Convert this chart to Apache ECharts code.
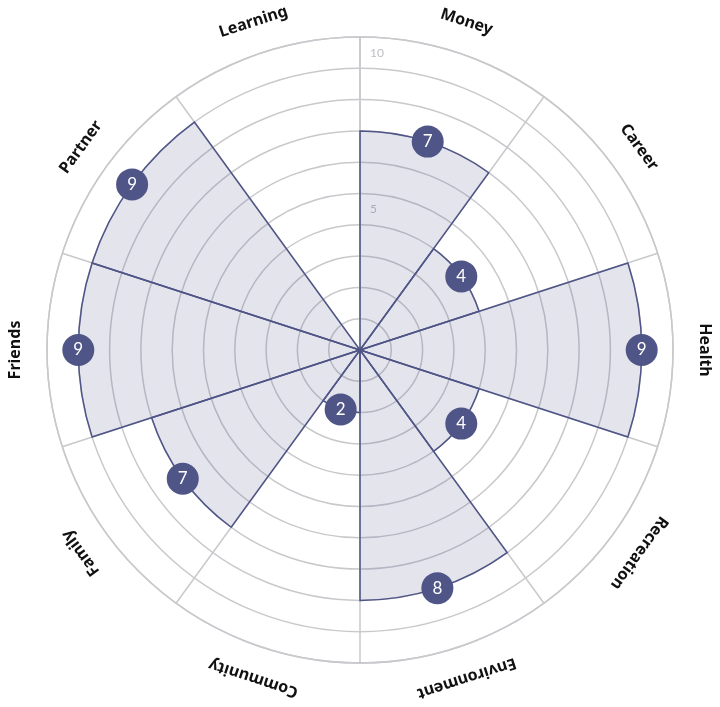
<!DOCTYPE html>
<html>
<head>
<meta charset="utf-8">
<script src="https://cdn.jsdelivr.net/npm/echarts@6/dist/echarts.min.js"></script>
<style>
  html, body { margin: 0; padding: 0; background: #fff; }
  #wheel { width: 720px; height: 707px; }
</style>
</head>
<body>
<div id="wheel"></div>
<script>
// 生命之轮：十个领域的打分（0-10）
var categories = ['Money', 'Career', 'Health', 'Recreation', 'Environment',
                  'Community', 'Family', 'Friends', 'Partner', 'Learning'];
var scores = [7, 4, 9, 4, 8, 2, 7, 9, 9, 0];
var scaleMax = 10;
var tickLabels = [5, 10];

var navy = '#4f5587';
var grey = '#c9c9cd';

var myChart = echarts.init(document.getElementById('wheel'));

// 外圈文字用一组透明的满值扇形来挂标签，这样文字能沿切线旋转
var ringData = categories.map(function () { return scaleMax; });
var barData = scores.map(function (v) { return v > 0 ? v : '-'; });
var dotData = scores.map(function (v, i) { return v > 0 ? [v, categories[i]] : null; })
    .filter(function (d) { return d !== null; });

var option = {
    animation: false,
    polar: {
        center: ['50%', 350],
        radius: 313
    },
    angleAxis: {
        type: 'category',
        data: categories,
        startAngle: 90,
        clockwise: true,
        axisLine: { show: true, lineStyle: { color: grey, width: 1.5 } },
        axisTick: { show: false },
        axisLabel: { show: false },
        splitLine: { show: true, lineStyle: { color: grey, width: 1.5 } }
    },
    radiusAxis: {
        type: 'value',
        min: 0,
        max: scaleMax,
        interval: 1,
        axisLine: { show: true, lineStyle: { color: grey, width: 1.5 } },
        axisTick: { show: false },
        splitLine: { show: true, lineStyle: { color: grey, width: 1.5 } },
        axisLabel: {
            color: '#bdbdc2',
            fontSize: 12,
            fontFamily: 'Lato',
            align: 'left',
            verticalAlign: 'top',
            margin: -10,
            padding: [10, 0, 0, 0],
            formatter: function (v) {
                return tickLabels.indexOf(v) >= 0 ? String(v) : '';
            }
        }
    },
    series: [
        {
            name: 'score',
            type: 'bar',
            coordinateSystem: 'polar',
            data: barData,
            barCategoryGap: '0%',
            barGap: '-100%',
            itemStyle: {
                color: 'rgba(79,85,135,0.16)',
                borderColor: navy,
                borderWidth: 1.5
            },
            silent: true,
            z: 2
        },
        {
            name: 'labels',
            type: 'bar',
            coordinateSystem: 'polar',
            data: ringData,
            barCategoryGap: '0%',
            barGap: '-100%',
            itemStyle: { color: 'rgba(0,0,0,0)' },
            label: {
                show: true,
                position: 'end',
                distance: 24,
                formatter: '{b}',
                color: '#111',
                fontSize: 16,
                fontWeight: 'bold',
                fontFamily: 'Noto Sans'
            },
            silent: true,
            z: 1
        },
        {
            name: 'dots',
            type: 'scatter',
            coordinateSystem: 'polar',
            data: dotData,
            symbol: 'circle',
            symbolSize: 32,
            itemStyle: { color: navy, opacity: 1 },
            label: {
                show: true,
                position: 'inside',
                formatter: function (p) { return p.value[0]; },
                color: '#fff',
                fontSize: 17,
                fontFamily: 'Lato'
            },
            silent: true,
            z: 5
        }
    ]
};

myChart.setOption(option);
</script>
</body>
</html>
